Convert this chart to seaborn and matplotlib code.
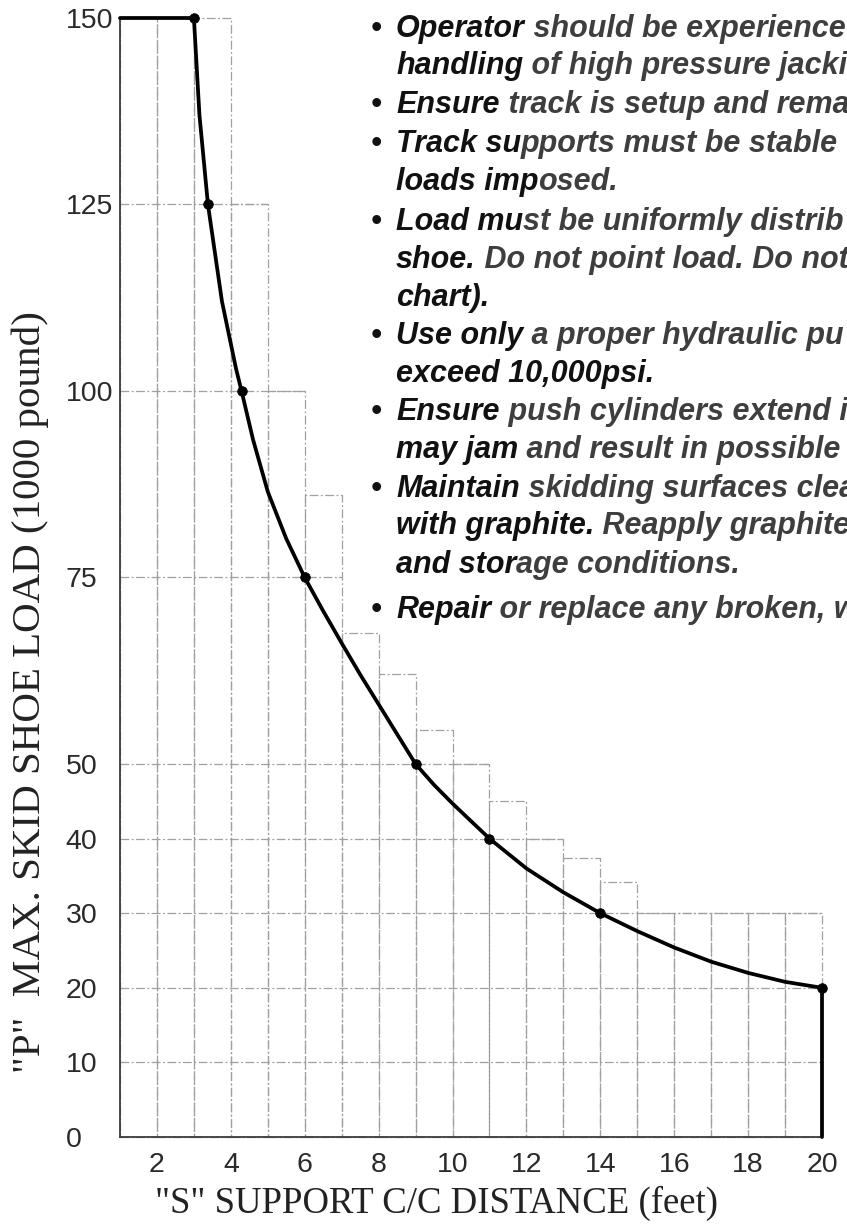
import matplotlib
matplotlib.use("Agg")
import matplotlib.pyplot as plt
import seaborn as sns
import pandas as pd

# --- chart data ---
span_ft = [1, 3, 3.15, 3.38, 3.76, 4.14, 4.29, 4.6, 5.0, 5.5, 6, 6.5, 7, 7.5, 8, 8.5, 9,
           9.5, 10, 11, 12, 13, 14, 15, 16, 17, 18, 19, 20, 20]
load_kip = [150, 150, 137, 125, 112, 103, 100, 93.5, 86.5, 80.2, 75, 70.5, 66.2, 62.0,
            58.0, 54.0, 50, 47.2, 44.7, 40, 36, 32.8, 30, 27.6, 25.4, 23.5, 22, 20.8, 20, 0]

marker_ft = [3, 3.38, 4.29, 6, 9, 11, 14, 20]
marker_kip = [150, 125, 100, 75, 50, 40, 30, 20]

# staircase of allowable load per 1 ft band
step_left = list(range(1, 20))
step_top = [150, 150, 150, 125, 100, 86, 67.5, 62, 54.5, 50, 45, 40, 37.4, 34.2,
            30, 30, 30, 30, 30]

grid_levels = [10, 20, 30, 40, 50, 75, 100, 125]
y_ticks = [0, 10, 20, 30, 40, 50, 75, 100, 125, 150]
x_ticks = [2, 4, 6, 8, 10, 12, 14, 16, 18, 20]

x_title = '"S" SUPPORT C/C DISTANCE (feet)'
y_title = '"P"  MAX. SKID SHOE LOAD (1000 pound)'

# bullet notes, cut off at the right edge like the scan: (bullet, key words, rest, baseline px)
notes = [
    (True, "Operator", " should be experience", 37),
    (False, "handling", " of high pressure jacki", 74),
    (True, "Ensure", " track is setup and rema", 113),
    (True, "Track su", "pports must be stable", 152),
    (False, "loads imp", "osed.", 190),
    (True, "Load mu", "st be uniformly distrib", 230),
    (False, "shoe.", " Do not point load. Do not", 268),
    (False, "chart).", "", 306),
    (True, "Use only", " a proper hydraulic pu", 344),
    (False, "exceed 10,000psi.", "", 382),
    (True, "Ensure", " push cylinders extend i", 420),
    (False, "may jam", " and result in possible", 458),
    (True, "Maintain", " skidding surfaces clea", 497),
    (False, "with graphite.", " Reapply graphite", 534),
    (False, "and stor", "age conditions.", 573),
    (True, "Repair", " or replace any broken, w", 618),
]

W, H = 847, 1227
GRID = "#a0a0a0"
DASH = (0, (7, 2, 1.5, 2))

sns.set_theme(style="white")
plt.rcParams["font.family"] = ["Liberation Sans", "DejaVu Sans"]

fig = plt.figure(figsize=(W / 100, H / 100), dpi=100)
ax_left, ax_right, ax_bottom, ax_top = 120, 822, 1137, 18
ax = fig.add_axes([ax_left / W, (H - ax_bottom) / H,
                   (ax_right - ax_left) / W, (ax_bottom - ax_top) / H])

# staircase outline (dashed grid under the curve)
ax.bar(step_left, step_top, width=1, align="edge", fill=False, edgecolor=GRID,
       linewidth=0.9, linestyle=DASH, zorder=1, clip_on=False)
for lvl in grid_levels:
    xmax = max(l + 1 for l, h in zip(step_left, step_top) if h >= lvl)
    ax.hlines(lvl, step_left[0], xmax, color=GRID, linewidth=0.9,
              linestyle=DASH, zorder=1)

# load curve with the capacity points
curve = pd.DataFrame({"S": span_ft, "P": load_kip})
sns.lineplot(data=curve, x="S", y="P", sort=False, estimator=None, color="black",
             linewidth=2.7, ax=ax, zorder=4, clip_on=False)
sns.scatterplot(x=marker_ft, y=marker_kip, color="black", s=48, edgecolor="black",
                ax=ax, zorder=5, clip_on=False)

ax.set_xlim(1, 20)
ax.set_ylim(0, 150)
ax.set_xticks(x_ticks)
ax.set_yticks(y_ticks)
ax.tick_params(axis="both", length=0, labelsize=20.5, labelcolor="#2a2a2a")
ax.tick_params(axis="y", pad=39)
ax.tick_params(axis="x", pad=11)
plt.setp(ax.get_yticklabels(), ha="left")

sns.despine(ax=ax)
for side in ["left", "bottom"]:
    ax.spines[side].set_color("#3c3c3c")
    ax.spines[side].set_linewidth(1.3)

serif = ["Liberation Serif", "DejaVu Serif"]
ax.set_xlabel(x_title, fontsize=26.5, family=serif, color="#222222", va="center")
ax.set_ylabel(y_title, fontsize=29.5, family=serif, color="#222222", va="center")
ax.xaxis.set_label_coords((436 - ax_left) / (ax_right - ax_left),
                          (ax_bottom - 1203) / (ax_bottom - ax_top))
ax.yaxis.set_label_coords((30 - ax_left) / (ax_right - ax_left),
                          (ax_bottom - 692) / (ax_bottom - ax_top))

# notes text block
note_style = dict(fontsize=22, fontweight="bold", fontstyle="italic",
                  family=["Liberation Sans", "DejaVu Sans"], va="baseline", ha="left")
renderer = fig.canvas.get_renderer()
for bullet, key, rest, base in notes:
    yf = 1 - base / H
    if bullet:
        fig.text(371 / W, yf, "\u2022", color="#111111", **note_style)
    t = fig.text(396 / W, yf, key, color="#111111", **note_style)
    if rest:
        wpx = t.get_window_extent(renderer).width
        fig.text((396 + wpx) / W, yf, rest, color="#3e3e3e", **note_style)

fig.savefig("out.png", dpi=100)
